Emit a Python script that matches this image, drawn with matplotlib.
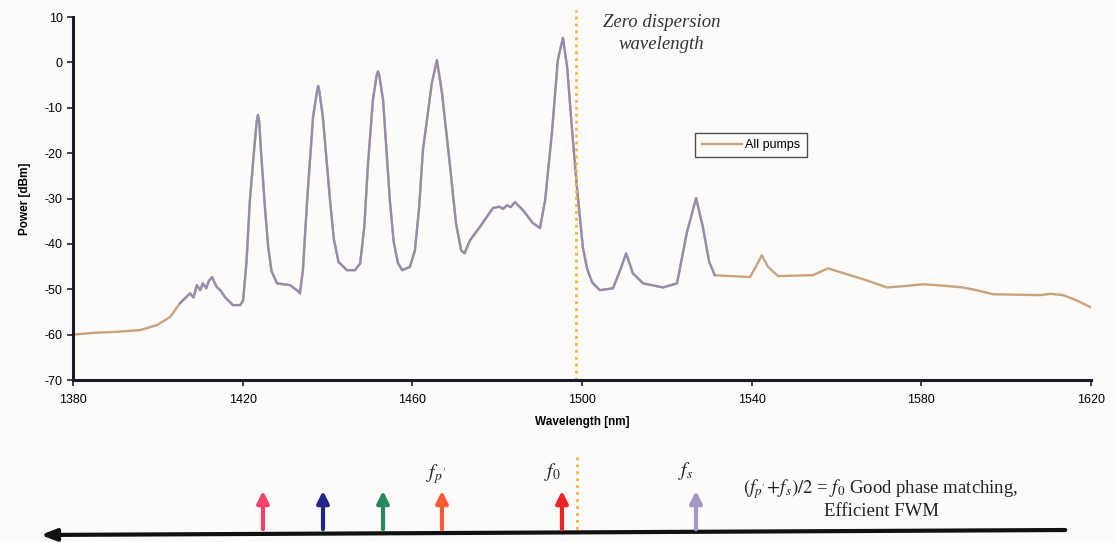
import matplotlib
matplotlib.use("Agg")
import matplotlib.pyplot as plt

# spectrum: wavelength [nm], power [dBm]
wavelength = [
    1380, 1385, 1390, 1395.8, 1399.8, 1402.9, 1405.2, 1407.6, 1408.4, 1409.2,
    1410.0, 1410.6, 1411.4, 1412.0, 1412.8, 1413.4, 1413.9, 1414.8, 1415.8,
    1417.7, 1419.4, 1420.1, 1420.9, 1421.7, 1422.7, 1423.3, 1423.6, 1423.9,
    1424.3, 1425.3, 1426.0, 1426.8, 1428.1, 1431.2, 1433.0, 1433.5, 1434.2,
    1435.2, 1436.6, 1437.5, 1437.8, 1438.1, 1438.9, 1440.6, 1441.5, 1442.6,
    1444.6, 1446.5, 1447.7, 1448.7, 1449.5, 1450.7, 1451.6, 1451.9, 1452.2,
    1453.1, 1454.7, 1455.6, 1456.6, 1457.6, 1459.4, 1460.6, 1461.6, 1462.5,
    1464.6, 1465.8, 1467.0, 1468.9, 1470.3, 1471.5, 1472.3, 1473.6, 1475.9,
    1479.0, 1480.5, 1481.4, 1482.3, 1483.2, 1484.2, 1486.1, 1488.4, 1490.1,
    1491.3, 1492.9, 1494.3, 1495.5, 1496.5, 1497.6, 1498.8, 1500.2, 1501.2,
    1502.4, 1504.2, 1507.3, 1509.0, 1510.4, 1512.0, 1514.4, 1519.1, 1522.4,
    1524.7, 1526.9, 1528.5, 1530.0, 1531.3, 1535.0, 1539.6, 1541.0, 1542.4,
    1543.8, 1546.2, 1550.0, 1554.4, 1558.0, 1563.2, 1567.0, 1571.9, 1576.0,
    1580.4, 1585.0, 1589.8, 1593.0, 1596.9, 1602.0, 1608.0, 1610.5, 1613.4,
    1616.5, 1620.0,
]
power = [
    -60.0, -59.6, -59.4, -59.0, -57.9, -56.1, -53.1, -50.9, -51.8, -49.1,
    -50.2, -48.7, -49.8, -48.2, -47.3, -48.6, -49.5, -50.3, -51.7,
    -53.5, -53.5, -52.5, -44.0, -30.4, -19.3, -13.0, -11.6, -13.0,
    -19.3, -32.6, -40.5, -46.0, -48.7, -49.1, -50.4, -50.9, -45.8,
    -30.4, -12.0, -6.5, -5.2, -6.5, -12.0, -30.4, -39.0, -44.0,
    -45.8, -45.8, -44.3, -36.0, -23.0, -8.3, -2.8, -2.0, -2.8,
    -8.3, -30.4, -39.5, -44.2, -45.8, -45.1, -41.5, -32.0, -19.3,
    -4.6, 0.5, -6.8, -23.0, -35.5, -41.4, -42.1, -39.2, -36.3,
    -32.1, -31.8, -32.3, -31.5, -31.9, -30.8, -32.6, -35.4, -36.5,
    -30.4, -15.6, 0.5, 5.4, -1.0, -14.3, -27.5, -40.7, -45.5,
    -48.5, -50.2, -49.8, -45.8, -42.1, -46.5, -48.7, -49.6, -48.7,
    -37.6, -29.9, -36.3, -44.0, -46.9, -47.1, -47.3, -45.0, -42.5,
    -45.0, -47.1, -47.0, -46.9, -45.4, -46.9, -48.0, -49.6, -49.3,
    -48.9, -49.2, -49.6, -50.2, -51.1, -51.2, -51.3, -51.0, -51.3,
    -52.4, -54.0,
]
series_label = "All pumps"
zero_dispersion = 1498.5

x_ticks = [1380, 1420, 1460, 1500, 1540, 1580, 1620]
y_ticks = [-70, -60, -50, -40, -30, -20, -10, 0, 10]

# pump / signal markers in the lower sketch (figure pixel x)
arrow_x = [263, 323, 383, 442, 562, 696]
arrow_colors = ["#f2426e", "#25258e", "#2b8a5c", "#fb5a32", "#ee2424", "#a596c4"]

W, H = 1115, 542
plt.rcParams["font.family"] = ["Liberation Sans", "DejaVu Sans"]
plt.rcParams["mathtext.fontset"] = "stix"
plt.rcParams["axes.unicode_minus"] = False

fig = plt.figure(figsize=(W / 100, H / 100), dpi=100)
fig.patch.set_facecolor("#fdfafa")

ax = fig.add_axes([73 / W, 1 - 380 / H, 1018 / W, 363 / H])
ax.set_facecolor("#fdfafa")
ax.plot(wavelength, power, color="#c9a27e", lw=1.7, label=series_label)
# the pump region of the trace shows up bluish-purple in the original
pump_pts = [(w, p) for w, p in zip(wavelength, power) if 1404 <= w <= 1531.5]
ax.plot([w for w, p in pump_pts], [p for w, p in pump_pts],
        color="#8c86b8", lw=1.6, alpha=0.85)

ax.set_xlim(1380, 1620)
ax.set_ylim(-70, 10)
ax.set_xticks(x_ticks)
ax.set_yticks(y_ticks)
ax.tick_params(labelsize=9, length=4, width=1.2, color="#222222")
ax.tick_params(axis="x", pad=6)
for side in ["top", "right"]:
    ax.spines[side].set_visible(False)
for side in ["left", "bottom"]:
    ax.spines[side].set_linewidth(2.2)
    ax.spines[side].set_color("#1a1a2a")

ax.set_xlabel("Wavelength [nm]", fontsize=8.5, fontweight="bold", labelpad=7)
ax.set_ylabel("Power [dBm]", fontsize=8.5, fontweight="bold", labelpad=10)

ax.plot([zero_dispersion, zero_dispersion], [-70, 11.5], color="#f6b43a",
        lw=2.0, ls=(0, (1, 1.5)), clip_on=False)
ax.text(1518.8, 10.6, "Zero dispersion\nwavelength", fontsize=13.5, style="italic",
        family="Liberation Serif", color="#333333", ha="center", va="top",
        linespacing=1.35)

leg = ax.legend(loc="center", bbox_to_anchor=(0.666, 0.647), fontsize=9,
                frameon=True, fancybox=False, handlelength=3.2,
                borderpad=0.5, handletextpad=0.3)
leg.get_frame().set_edgecolor("#222222")
leg.get_frame().set_linewidth(1.0)

# lower sketch drawn in figure pixels
sk = fig.add_axes([0, 0, 1, 1], facecolor="none")
sk.set_xlim(0, W)
sk.set_ylim(H, 0)
sk.axis("off")

sk.annotate("", xy=(38, 535), xytext=(1068, 530),
            arrowprops=dict(arrowstyle="-|>,head_width=0.35,head_length=0.9",
                            color="#111111", lw=3.0))
for xa, ca in zip(arrow_x, arrow_colors):
    sk.annotate("", xy=(xa, 488), xytext=(xa, 532),
                arrowprops=dict(arrowstyle="-|>,head_width=0.35,head_length=0.7",
                                color=ca, lw=3.0))
sk.plot([577, 577], [457, 531], color="#f6b43a", lw=2.0, ls=(0, (1, 1.5)))

sk.text(436, 474, r"$f_{p'}$", fontsize=14, ha="center", va="center", color="#222222")
sk.text(552, 472, r"$f_{0}$", fontsize=14, ha="center", va="center", color="#222222")
sk.text(686, 471, r"$f_{s}$", fontsize=14, ha="center", va="center", color="#222222")
sk.text(881, 489, r"$(f_{p'}\!+\!f_{s})/2$ = $f_{0}$ Good phase matching,",
        fontsize=13.5, ha="center", va="center", family="Liberation Serif",
        color="#222222")
sk.text(882, 512, "Efficient FWM", fontsize=13.5, ha="center", va="center",
        family="Liberation Serif", color="#222222")

fig.savefig("out.png", dpi=100, facecolor=fig.get_facecolor())
